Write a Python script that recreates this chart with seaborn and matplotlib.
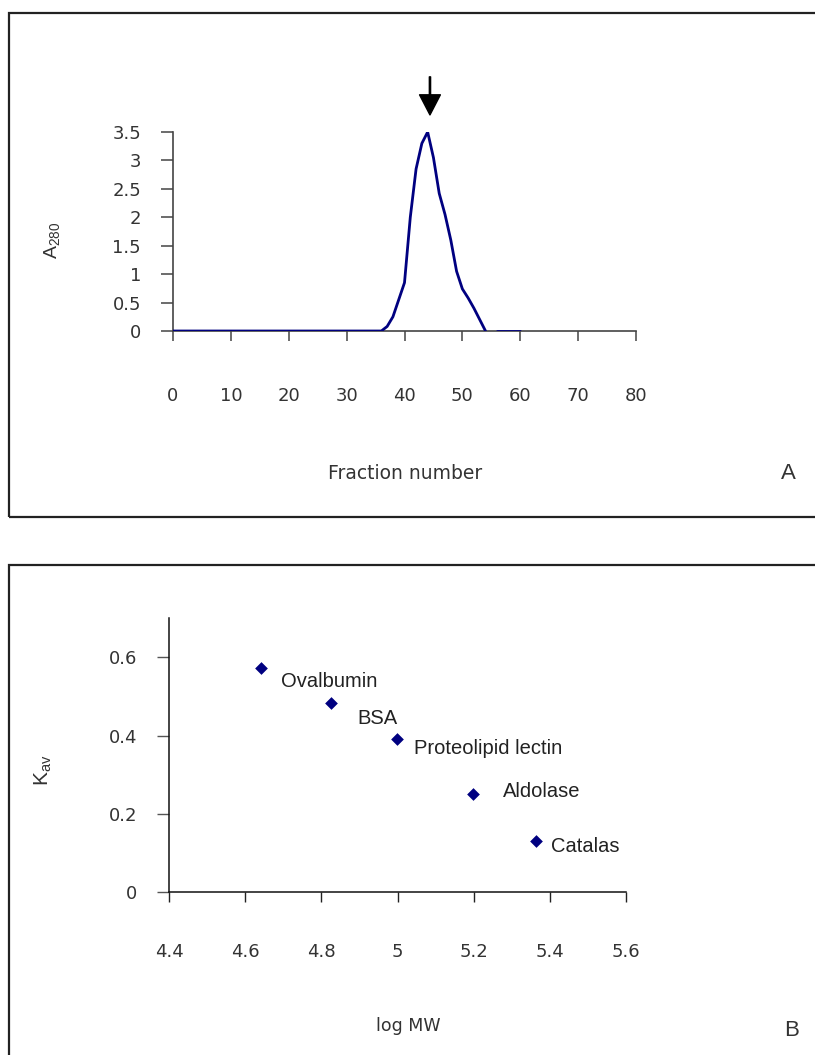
import numpy as np
import pandas as pd
import matplotlib
matplotlib.use("Agg")
import matplotlib.pyplot as plt
import seaborn as sns
from matplotlib.patches import Rectangle

# ---------------- data ----------------
# Panel A: elution profile (fraction number vs A280)
fraction = [0, 1, 2, 3, 4, 5, 6, 7, 8, 9, 10, 11, 12, 13, 14, 15, 16, 17, 18, 19,
            20, 21, 22, 23, 24, 25, 26, 27, 28, 29, 30, 31, 32, 33, 34, 35, 36, 37,
            38, 39, 40, 41, 42, 43, 44, 45, 46, 47, 48, 49, 50, 51, 52, 53, 54,
            56, 57, 58, 59, 60]
a280 = [0, 0, 0, 0, 0, 0, 0, 0, 0, 0, 0, 0, 0, 0, 0, 0, 0, 0, 0, 0,
        0, 0, 0, 0, 0, 0, 0, 0, 0, 0, 0, 0, 0, 0, 0, 0, 0, 0.08,
        0.25, 0.55, 0.85, 2.0, 2.85, 3.3, 3.5, 3.05, 2.42, 2.05, 1.6, 1.05, 0.74, 0.58, 0.4, 0.2, 0,
        0, 0, 0, 0, 0]
segment = [1] * 55 + [2] * 5
peak_fraction = 44.4
x_ticks_a = [0, 10, 20, 30, 40, 50, 60, 70, 80]
y_ticks_a = [0, 0.5, 1, 1.5, 2, 2.5, 3, 3.5]

# Panel B: calibration (log MW vs Kav)
proteins = ["Ovalbumin", "BSA", "Proteolipid lectin", "Aldolase", "Catalas"]
log_mw = [4.64, 4.826, 4.999, 5.199, 5.365]
kav = [0.573, 0.483, 0.391, 0.250, 0.132]
x_ticks_b = [4.4, 4.6, 4.8, 5.0, 5.2, 5.4, 5.6]
y_ticks_b = [0, 0.2, 0.4, 0.6]

# ---------------- style ----------------
sns.set_theme(style="white")
plt.rcParams["font.family"] = ["Liberation Sans", "DejaVu Sans"]
navy = "#000080"
txt = "#333333"
wide = ["DejaVu Sans"]

W, H = 815, 1055
fig = plt.figure(figsize=(W / 100, H / 100), dpi=100)
fig.patch.set_facecolor("white")

def fx(px):
    return px / W

def fy(py):
    return 1 - py / H

# panel frames
fig.patches.append(Rectangle((fx(9), fy(517)), fx(830) - fx(9), fy(13) - fy(517),
                             transform=fig.transFigure, fill=False,
                             edgecolor="#222222", lw=1.6))
fig.patches.append(Rectangle((fx(9), fy(1070)), fx(830) - fx(9), fy(565) - fy(1070),
                             transform=fig.transFigure, fill=False,
                             edgecolor="#222222", lw=1.6))

# ---------------- Panel A ----------------
dfa = pd.DataFrame({"fraction": fraction, "a280": a280, "segment": segment})
axA = fig.add_axes([fx(173), fy(331), fx(636) - fx(173), fy(132) - fy(331)])
sns.lineplot(data=dfa, x="fraction", y="a280", units="segment", estimator=None,
             color=navy, lw=2, ax=axA, legend=False, zorder=3)
axA.set_xlim(0, 80)
axA.set_ylim(0, 3.5)
axA.set_xticks(x_ticks_a)
axA.set_xticklabels([f"{v:g}" for v in x_ticks_a], family=wide)
axA.set_yticks(y_ticks_a)
axA.set_yticklabels([f"{v:g}" for v in y_ticks_a], family=wide)
axA.set_xlabel("")
axA.set_ylabel("")
for s in ["top", "right"]:
    axA.spines[s].set_visible(False)
for s in ["left", "bottom"]:
    axA.spines[s].set_color("#444444")
    axA.spines[s].set_linewidth(1.2)
axA.tick_params(axis="x", direction="out", length=7.5, width=1.1, color="#444444",
                pad=33, labelsize=13, labelcolor=txt, bottom=True)
axA.tick_params(axis="y", direction="out", length=9, width=1.1, color="#444444",
                pad=14, labelsize=13, labelcolor=txt, left=True)
axA.annotate("", xy=(peak_fraction, 3.80), xytext=(peak_fraction, 4.47),
             xycoords="data", textcoords="data", annotation_clip=False,
             arrowprops=dict(facecolor="black", edgecolor="black", width=0.9,
                             headwidth=15, headlength=14.5, shrink=0))

fig.text(fx(52), fy(240), r"$\mathregular{A_{280}}$", rotation=90, ha="center",
         va="center", fontsize=14, color=txt)
fig.text(fx(405), fy(473), "Fraction number", ha="center", va="center",
         fontsize=13.5, color=txt, family=wide)
fig.text(fx(788), fy(473), "A", ha="center", va="center", fontsize=16, color=txt)

# ---------------- Panel B ----------------
dfb = pd.DataFrame({"protein": proteins, "log_mw": log_mw, "kav": kav})
axB = fig.add_axes([fx(169.3), fy(892.3), fx(625.7) - fx(169.3), fy(618.3) - fy(892.3)])
sns.scatterplot(data=dfb, x="log_mw", y="kav", marker="D", color=navy, s=42,
                linewidth=0, ax=axB, legend=False, zorder=3)
axB.set_xlim(4.4, 5.6)
axB.set_ylim(0, 0.7)
axB.set_xticks(x_ticks_b)
axB.set_xticklabels([f"{v:g}" for v in x_ticks_b], family=wide)
axB.set_yticks(y_ticks_b)
axB.set_yticklabels([f"{v:g}" for v in y_ticks_b], family=wide)
axB.set_xlabel("")
axB.set_ylabel("")
for s in ["top", "right"]:
    axB.spines[s].set_visible(False)
for s in ["left", "bottom"]:
    axB.spines[s].set_color("#111111")
    axB.spines[s].set_linewidth(1.1)
axB.tick_params(axis="x", direction="out", length=7.5, width=1.0, color="#222222",
                pad=29, labelsize=13, labelcolor=txt, bottom=True)
axB.tick_params(axis="y", direction="out", length=9, width=1.0, color="#555555",
                pad=14, labelsize=13, labelcolor=txt, left=True)

label_offsets = [(14.4, -10.0), (18.7, -10.8), (12.2, -6.5), (21.6, 2.2), (10.8, -4.3)]
for name, xv, yv, off in zip(dfb["protein"], dfb["log_mw"], dfb["kav"], label_offsets):
    axB.annotate(name, xy=(xv, yv), xytext=off, textcoords="offset points",
                 ha="left", va="center", fontsize=14.5, color="#222222")

fig.text(fx(43), fy(770), r"$\mathregular{K_{av}}$", rotation=90, ha="center",
         va="center", fontsize=15, color=txt)
fig.text(fx(408), fy(1026), "log MW", ha="center", va="center", fontsize=12.5,
         color=txt, family=wide)
fig.text(fx(792), fy(1031), "B", ha="center", va="center", fontsize=16, color=txt)

fig.savefig("out.png", dpi=100, facecolor="white")
